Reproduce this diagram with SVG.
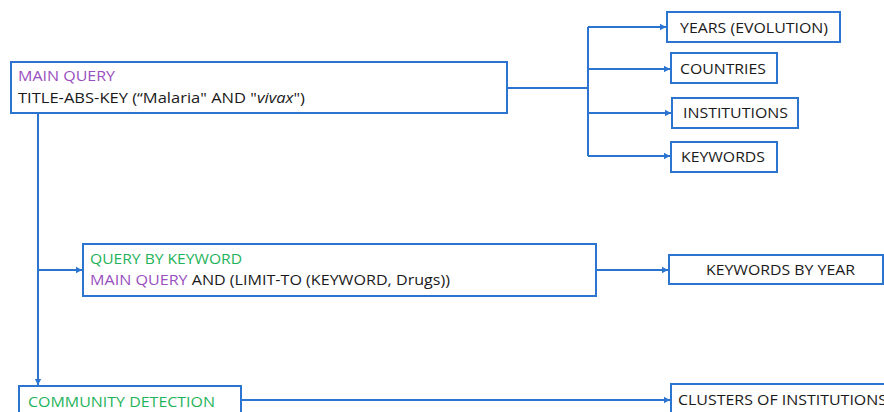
<svg xmlns="http://www.w3.org/2000/svg" width="884" height="412" viewBox="0 0 884 412">
<style>
.box{fill:#fff;stroke:#2b74d0;stroke-width:2}
.t{font-family:"Open Sans","Liberation Sans",sans-serif;font-size:14.5px;fill:#1a1a1a}
.p{fill:#9a4fc0}
.g{fill:#1fb35a}
.c{fill:none;stroke:#2b74d0;stroke-width:2}
</style>
<defs>
<marker id="ah" markerUnits="userSpaceOnUse" markerWidth="8" markerHeight="8" refX="6" refY="4" orient="auto">
<path d="M0,0.8 L6,4 L0,7.2 Z" fill="#2b74d0"/>
</marker>
</defs>
<rect width="884" height="412" fill="#fff"/>
<g id="connectors">
<path class="c" d="M507,88 H588"/>
<path class="c" d="M588,27 V156"/>
<path class="c" d="M588,27 H666" marker-end="url(#ah)"/>
<path class="c" d="M588,69 H670" marker-end="url(#ah)"/>
<path class="c" d="M588,113 H671" marker-end="url(#ah)"/>
<path class="c" d="M588,156 H670" marker-end="url(#ah)"/>
<path class="c" d="M38,113 V385" marker-end="url(#ah)"/>
<path class="c" d="M38,270 H82" marker-end="url(#ah)"/>
<path class="c" d="M596,270 H668" marker-end="url(#ah)"/>
<path class="c" d="M241,400 H670" marker-end="url(#ah)"/>
</g>
<g id="main-query">
<rect class="box" x="11" y="62" width="496" height="51"/>
<text class="t p" x="18" y="81" textLength="97" lengthAdjust="spacingAndGlyphs">MAIN QUERY</text>
<text class="t" x="18" y="103" textLength="287" lengthAdjust="spacingAndGlyphs">TITLE-ABS-KEY (“Malaria" AND "<tspan font-style="italic">vivax</tspan>")</text>
</g>
<g id="years">
<rect class="box" x="667" y="12" width="173" height="30"/>
<text class="t" x="680" y="32.5" textLength="148" lengthAdjust="spacingAndGlyphs">YEARS (EVOLUTION)</text>
</g>
<g id="countries">
<rect class="box" x="671" y="53" width="106" height="30"/>
<text class="t" x="680" y="74" textLength="86" lengthAdjust="spacingAndGlyphs">COUNTRIES</text>
</g>
<g id="institutions">
<rect class="box" x="672" y="98" width="126" height="30"/>
<text class="t" x="683" y="118" textLength="105" lengthAdjust="spacingAndGlyphs">INSTITUTIONS</text>
</g>
<g id="keywords">
<rect class="box" x="671" y="142" width="106" height="30"/>
<text class="t" x="681" y="162" textLength="84" lengthAdjust="spacingAndGlyphs">KEYWORDS</text>
</g>
<g id="query-by-keyword">
<rect class="box" x="83" y="244" width="513" height="52"/>
<text class="t g" x="90" y="264" textLength="152" lengthAdjust="spacingAndGlyphs">QUERY BY KEYWORD</text>
<text class="t" x="90" y="285" textLength="360" lengthAdjust="spacingAndGlyphs"><tspan class="p">MAIN QUERY</tspan> AND (LIMIT-TO (KEYWORD, Drugs))</text>
</g>
<g id="keywords-by-year">
<rect class="box" x="669" y="255" width="214" height="29"/>
<text class="t" x="706" y="275" textLength="149" lengthAdjust="spacingAndGlyphs">KEYWORDS BY YEAR</text>
</g>
<g id="community-detection">
<rect class="box" x="19" y="386" width="222" height="40"/>
<text class="t g" x="28" y="407" textLength="187" lengthAdjust="spacingAndGlyphs">COMMUNITY DETECTION</text>
</g>
<g id="clusters">
<rect class="box" x="671" y="384" width="230" height="40"/>
<text class="t" x="678" y="405" textLength="209" lengthAdjust="spacingAndGlyphs">CLUSTERS OF INSTITUTIONS</text>
</g>
</svg>
